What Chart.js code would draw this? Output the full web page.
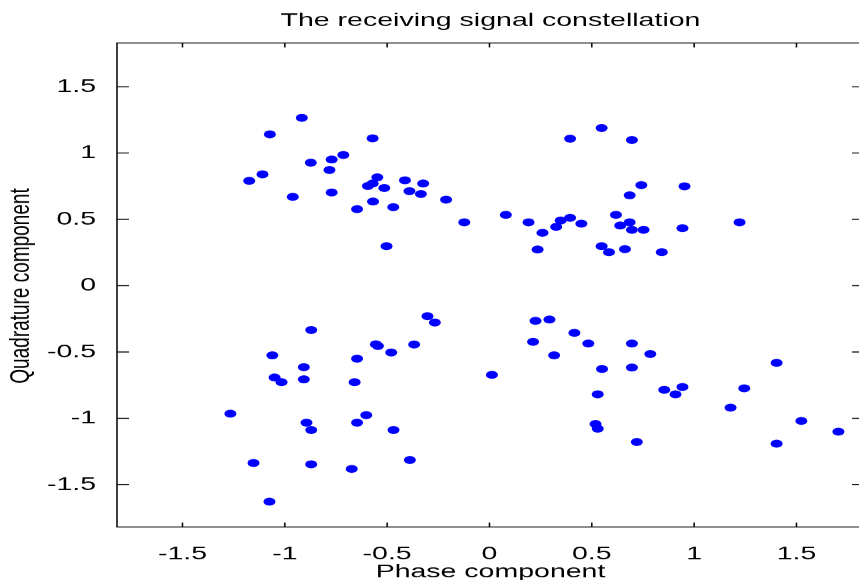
<!DOCTYPE html>
<html lang="en">
<head>
  <meta charset="UTF-8" />
  <title>The receiving signal constellation</title>
  <script src="https://cdn.jsdelivr.net/npm/chart.js"></script>
  <style>
    body { margin: 0; background: #fff; overflow: hidden; }
    #wrap { width: 859px; height: 580px; overflow: hidden; }
    #c { display: block; }
  </style>
</head>
<body>
  <!-- chart is laid out 580 wide and stretched 1.5x sideways, like the source picture -->
  <div id="wrap"><canvas id="c" width="580" height="580" style="width:870px;height:580px"></canvas></div>

  <script>
    const xTicks = [-1.5, -1, -0.5, 0, 0.5, 1, 1.5];
    const yTicks = [-1.5, -1, -0.5, 0, 0.5, 1, 1.5];

    // received symbols, phase (I) and quadrature (Q)
    const phaseUL = [-0.917, -1.073, -0.571, -0.714, -0.771, -0.873, -0.782, -1.109, -1.174, -0.548, -0.571, -0.594, -0.514,
                     -0.413, -0.324, -0.391, -0.335, -0.961, -0.771, -0.212, -0.569, -0.647, -0.470, -0.123, -0.503];
    const quadUL  = [1.266, 1.141, 1.111, 0.985, 0.952, 0.927, 0.872, 0.839, 0.791, 0.817, 0.771, 0.751, 0.736,
                     0.794, 0.771, 0.713, 0.691, 0.670, 0.703, 0.648, 0.635, 0.577, 0.592, 0.477, 0.298];

    const phaseUR = [0.548, 0.394, 0.696, 0.742, 0.953, 0.685, 0.080, 0.191, 0.348, 0.394, 0.326, 0.449, 0.259,
                     0.235, 0.618, 0.639, 0.685, 0.696, 0.753, 0.943, 1.222, 0.548, 0.584, 0.662, 0.842];
    const quadUR  = [1.189, 1.108, 1.098, 0.758, 0.749, 0.681, 0.534, 0.477, 0.492, 0.512, 0.444, 0.467, 0.399,
                     0.273, 0.534, 0.454, 0.477, 0.421, 0.421, 0.434, 0.477, 0.298, 0.253, 0.275, 0.253];

    const phaseLL = [-0.303, -0.267, -0.871, -0.555, -0.545, -0.480, -0.368, -1.061, -0.647, -0.907, -1.050, -1.016, -0.907,
                     -0.659, -1.266, -0.894, -0.871, -0.647, -0.602, -0.469, -1.153, -0.871, -0.673, -0.389, -1.075];
    const quadLL  = [-0.230, -0.278, -0.334, -0.442, -0.455, -0.504, -0.444, -0.525, -0.550, -0.615, -0.693, -0.728, -0.706,
                     -0.728, -0.965, -1.033, -1.088, -1.033, -0.977, -1.088, -1.337, -1.347, -1.382, -1.315, -1.629];

    const phaseLR = [0.225, 0.293, 0.415, 0.213, 0.483, 0.696, 0.316, 0.786, 0.012, 0.550, 0.696, 0.529, 0.854,
                     0.909, 0.943, 1.245, 1.403, 1.178, 0.518, 0.529, 0.720, 1.524, 1.705, 1.403];
    const quadLR  = [-0.265, -0.255, -0.356, -0.424, -0.436, -0.436, -0.525, -0.515, -0.673, -0.628, -0.617, -0.819, -0.786,
                     -0.819, -0.764, -0.774, -0.582, -0.920, -1.043, -1.078, -1.179, -1.020, -1.101, -1.191];

    const phase = [...phaseUL, ...phaseUR, ...phaseLL, ...phaseLR];
    const quad = [...quadUL, ...quadUR, ...quadLL, ...quadLR];
    const points = phase.map((x, i) => ({ x: x, y: quad[i] }));

    const FONT = '"Liberation Sans", Arial, sans-serif';

    // box, inward ticks and the three texts, MATLAB style
    const frame = {
      id: 'frame',
      afterDraw(chart) {
        const ctx = chart.ctx;
        const a = chart.chartArea;
        const xs = chart.scales.x, ys = chart.scales.y;
        ctx.save();
        ctx.strokeStyle = '#000';
        ctx.lineWidth = 1;
        ctx.strokeRect(a.left, a.top, a.right - a.left, a.bottom - a.top);
        ctx.beginPath();
        xTicks.forEach(v => {
          const px = xs.getPixelForValue(v);
          ctx.moveTo(px, a.bottom); ctx.lineTo(px, a.bottom - 4.5);
          ctx.moveTo(px, a.top); ctx.lineTo(px, a.top + 4.5);
        });
        yTicks.forEach(v => {
          const py = ys.getPixelForValue(v);
          ctx.moveTo(a.left, py); ctx.lineTo(a.left + 8, py);
          ctx.moveTo(a.right, py); ctx.lineTo(a.right - 8, py);
        });
        ctx.stroke();

        const cx = (a.left + a.right) / 2;
        ctx.fillStyle = '#000';
        ctx.font = '19px ' + FONT;
        ctx.textAlign = 'center';
        ctx.textBaseline = 'middle';
        ctx.fillText('The receiving signal constellation', cx, 21);
        ctx.textBaseline = 'alphabetic';
        ctx.fillText('Phase component', cx, 577);
        ctx.translate(19, 286);
        ctx.rotate(-Math.PI / 2);
        ctx.fillText('Quadrature component', 0, 0);
        ctx.restore();
      }
    };

    const chart = new Chart(document.getElementById('c'), {
      type: 'scatter',
      data: {
        datasets: [{
          label: 'received',
          data: points,
          pointStyle: 'circle',
          pointRadius: 4,
          pointBorderWidth: 0,
          pointBackgroundColor: '#0000ff',
          borderColor: '#0000ff'
        }]
      },
      options: {
        responsive: false,
        devicePixelRatio: 1.5,
        animation: false,
        layout: { padding: { left: 0, top: 43, right: 2.5, bottom: 0 } },
        plugins: { legend: { display: false }, tooltip: { enabled: false } },
        scales: {
          x: {
            type: 'linear', min: -1.82, max: 1.83,
            grid: { display: false }, border: { display: false },
            ticks: { padding: 8, color: '#000', font: { family: FONT, size: 19 }, maxRotation: 0, autoSkip: false,
                     callback: v => String(v) },
            afterBuildTicks: s => { s.ticks = xTicks.map(v => ({ value: v })); },
            afterFit: s => { s.height = 53; }
          },
          y: {
            type: 'linear', min: -1.82, max: 1.83,
            grid: { display: false }, border: { display: false },
            ticks: { padding: 6, color: '#000', font: { family: FONT, size: 19 }, autoSkip: false,
                     callback: v => String(v) },
            afterBuildTicks: s => { s.ticks = yTicks.map(v => ({ value: v })); },
            afterFit: s => { s.width = 78; }
          }
        }
      },
      plugins: [frame]
    });
    chart.canvas.style.width = '870px';
    chart.canvas.style.height = '580px';
  </script>
</body>
</html>
